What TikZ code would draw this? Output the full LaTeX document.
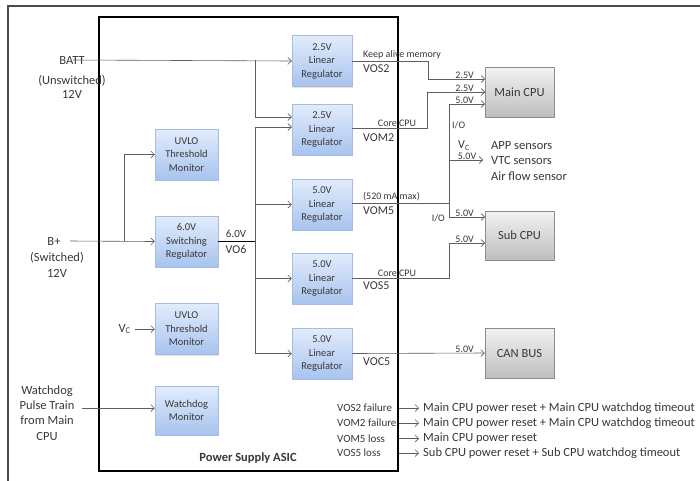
\documentclass[tikz,border=0pt]{standalone}
\usepackage{fontspec}
\setmainfont{Carlito}
\usetikzlibrary{arrows.meta,shadows}
\definecolor{ln}{HTML}{5E5E5E}
\definecolor{txt}{HTML}{383838}
\definecolor{bluetop}{HTML}{E2ECFC}
\definecolor{bluebot}{HTML}{A8C3EE}
\definecolor{blueedge}{HTML}{A6BCE0}
\definecolor{graytop}{HTML}{F2F2F2}
\definecolor{graybot}{HTML}{BEBEBE}
\definecolor{grayedge}{HTML}{8C8C8C}
\begin{document}
\begin{tikzpicture}[x=1pt,y=-1pt,
  regbox/.style={draw=blueedge, line width=0.5pt, top color=bluetop, bottom color=bluebot,
    minimum width=60pt, minimum height=51pt, align=center, inner sep=1pt,
    font=\fontsize{10.5}{13.5}\selectfont, text=txt,
    drop shadow={shadow xshift=1.2pt, shadow yshift=-1.2pt, opacity=0.2}},
  cpubox/.style={draw=grayedge, line width=0.5pt, top color=graytop, bottom color=graybot,
    minimum width=69pt, minimum height=50pt, inner sep=1pt,
    font=\fontsize{12.5}{14}\selectfont, text=txt,
    drop shadow={shadow xshift=1.2pt, shadow yshift=-1.2pt, opacity=0.2}},
  conn/.style={draw=ln, line width=0.6pt},
  arr/.style={conn, -{Straight Barb[length=3.5pt,width=7pt]}},
  lbl/.style={font=\fontsize{12.5}{15.3}\selectfont, text=txt, inner sep=0pt, align=center},
  mid/.style={font=\fontsize{12}{13}\selectfont, text=txt, inner sep=0pt},
  sml/.style={font=\fontsize{10}{11}\selectfont, text=txt, inner sep=1pt},
]
\useasboundingbox (0,0) rectangle (700,480);
\fill[white] (0,0) rectangle (700,480);

% frames
\draw[draw=black!70, line width=1.2pt] (8,482) -- (8,6) -- (702,6);
\draw[draw=black, line width=1.6pt] (99,17) rectangle (398,471);
\node[font=\bfseries\fontsize{12.5}{14}\selectfont, text=txt] (asic) at (248,458) {Power Supply ASIC};

% boxes
\node[regbox] (r1) at (322,61)    {2.5V\\Linear\\Regulator};
\node[regbox] (r2) at (322,129.5) {2.5V\\Linear\\Regulator};
\node[regbox] (r3) at (322,204.5) {5.0V\\Linear\\Regulator};
\node[regbox] (r4) at (322,278.5) {5.0V\\Linear\\Regulator};
\node[regbox] (r5) at (322,353.5) {5.0V\\Linear\\Regulator};
\node[regbox, minimum width=63pt] (uv1) at (186.5,154.5) {UVLO\\Threshold\\Monitor};
\node[regbox, minimum width=63pt] (sw)  at (186.5,241.5) {6.0V\\Switching\\Regulator};
\node[regbox, minimum width=63pt] (uv2) at (186.5,329)   {UVLO\\Threshold\\Monitor};
\node[regbox, minimum width=63pt, minimum height=49pt] (wd) at (186.5,410.5) {Watchdog\\Monitor};
\node[cpubox] (main) at (519.5,92)    {Main CPU};
\node[cpubox, minimum height=49pt] (sub) at (519.5,235.5) {Sub CPU};
\node[cpubox] (can)  at (519.5,353)   {CAN BUS};

% left labels
\node[lbl] (batt) at (72,60) {BATT};
\node[lbl] (unsw) at (72,81) {(Unswitched)};
\node[lbl] (v12a) at (72,94.5) {12V};
\node[lbl] (bplus) at (54,241) {B+};
\node[lbl] (swd) at (57,258) {(Switched)};
\node[lbl] (v12b) at (57,273) {12V};
\node[lbl, anchor=east] (vc) at (131,329) {V\textsubscript{C}};
\node[lbl] (wdt) at (47,413) {Watchdog\\Pulse Train\\from Main\\CPU};

\coordinate (bs) at (73,60);
\coordinate (jb) at (255,60);
\coordinate (jb2) at (255,117);
\coordinate (bp) at (70,241);
\coordinate (jbp) at (124,241);
\coordinate (wds) at (82,408);

% inputs
\draw[arr] (bs) -- (r1.west);
\draw[conn] (jb) -- (jb2);
\draw[arr] (jb2) -- (jb2 -| r2.west);
\draw[arr] (bp) -- (sw.west);
\draw[arr] (jbp) |- (uv1.west);
\draw[arr] (vc.east) ++(4,0) coordinate (vcs) -- (uv2.west);
\draw[arr] (wds) -- (wds -| wd.west);

% 6V bus
\coordinate (bus) at (255,241.5);
\coordinate (bt) at (255,127);
\coordinate (bb) at (255,353.5);
\draw[draw=black, line width=1.1pt] (sw.east) -- (bus);
\draw[conn] (bt) -- (bb);
\draw[arr] (bt) -- (bt -| r2.west);
\draw[arr] (bt |- r3.west) -- (r3.west);
\draw[arr] (bt |- r4.west) -- (r4.west);
\draw[arr] (bb) -- (r5.west);
\node[mid, font=\fontsize{11}{12}\selectfont] (v6l) at (236,233.5) {6.0V};
\node[mid] (vo6) at (236,249.5) {VO6};

% outputs
\coordinate (m1) at (485,79);
\coordinate (m2) at (485,92);
\coordinate (m3) at (485,104);
\coordinate (s1) at (485,217);
\coordinate (s2) at (485,243);
\coordinate (sens) at (483,160);
\coordinate (vx) at (449,104);
\coordinate (vy) at (449,217);
\draw[arr] (r1.east) -- (428,61) |- (m1);
\draw[arr] (r2.east |- 0,128) -- (427,128) |- (m2);
\draw[conn] (r3.east |- 0,203) -- (449,203);
\draw[conn] (vx) -- (vy);
\draw[arr] (vx) -- (m3);
\draw[arr] (vx |- sens) -- (sens);
\draw[arr] (vy) -- (s1);
\draw[arr] (r4.east) -- (449,278.5) |- (s2);
\draw[arr] (r5.east) -- (can.west);

% output labels
\node[sml, anchor=west] (kam) at (362,55) {Keep alive memory};
\node[mid, anchor=west] (vos2) at (363,69) {VOS2};
\node[sml] (core1) at (397,123) {Core CPU};
\node[mid, anchor=west] (vom2) at (363,138) {VOM2};
\node[sml, anchor=west] (ma) at (362,197) {(520 mA max)};
\node[mid, anchor=west] (vom5) at (363,211) {VOM5};
\node[sml] (core2) at (397,273) {Core CPU};
\node[mid, anchor=west] (vos5) at (363,286) {VOS5};
\node[mid, anchor=west] (voc5) at (363,362) {VOC5};

\node[sml, anchor=south east] (l1) at (475,79.6) {2.5V};
\node[sml, anchor=south east] (l2) at (475,92.6) {2.5V};
\node[sml, anchor=south east] (l3) at (475,104.6) {5.0V};
\node[sml, anchor=west] (io1) at (451,125) {I/O};
\node[mid] (vcs2) at (464,146) {V\textsubscript{C}};
\node[sml, anchor=south] (l4) at (467,160.6) {5.0V};
\node[lbl, anchor=west, align=left] (sensl) at (491,161) {APP sensors\\VTC sensors\\Air flow sensor};
\node[sml, anchor=east] (io2) at (446,218) {I/O};
\node[sml, anchor=south east] (l5) at (475,217.6) {5.0V};
\node[sml, anchor=south east] (l6) at (475,243.6) {5.0V};
\node[sml, anchor=south east] (l7) at (475,353.6) {5.0V};

% failure table
\foreach \i/\a/\b/\yy in {1/VOS2 failure/Main CPU power reset + Main CPU watchdog timeout/408,
                          2/VOM2 failure/Main CPU power reset + Main CPU watchdog timeout/423,
                          3/VOM5 loss/Main CPU power reset/438.5,
                          4/VOS5 loss/Sub CPU power reset + Sub CPU watchdog timeout/453}{
  \node[lbl, font=\fontsize{11}{13}\selectfont, anchor=west] (fa\i) at (337,\yy) {\a};
  \node[lbl, anchor=west] (fb\i) at (423,\yy) {\b};
  \coordinate (fs\i) at (399,\yy);
  \draw[arr] (fs\i) -- ([xshift=-4pt]fb\i.west);
}
\end{tikzpicture}
\end{document}
